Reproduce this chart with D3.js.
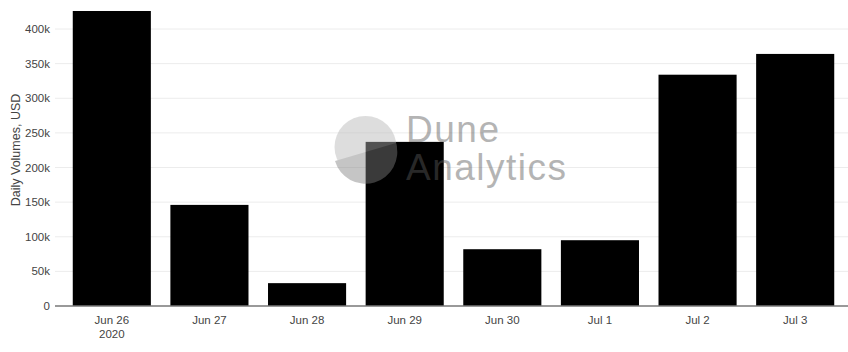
<!DOCTYPE html>
<html>
<head>
<meta charset="utf-8">
<script src="https://cdn.jsdelivr.net/npm/d3@7"></script>
<style>
  body { margin: 0; background: #fff; }
  text { font-family: "Liberation Sans", Arial, sans-serif; }
</style>
</head>
<body>
<svg id="chart" width="848" height="352"></svg>
<script>
(function () {
    'use strict';

    var days = ['Jun 26', 'Jun 27', 'Jun 28', 'Jun 29', 'Jun 30', 'Jul 1', 'Jul 2', 'Jul 3'],
        volumes = [426000, 146000, 33000, 237000, 82000, 95000, 334000, 364000],
        yTicks = [0, 50000, 100000, 150000, 200000, 250000, 300000, 350000, 400000];

    var svg = d3.select('#chart'),
        left = 63, right = 844, bottom = 306;

    var x = d3.scaleBand().domain(days).range([left, right]).paddingInner(0.2).paddingOuter(0.1);
    var y = d3.scaleLinear().domain([0, 400000]).range([bottom, 29]);

    // grid
    svg.append('g').selectAll('line').data(yTicks.slice(1)).enter().append('line')
        .attr('x1', 55).attr('x2', 848)
        .attr('y1', function (d) { return y(d); })
        .attr('y2', function (d) { return y(d); })
        .attr('stroke', '#ececec').attr('stroke-width', 1);

    // y labels
    svg.append('g').selectAll('text').data(yTicks).enter().append('text')
        .attr('x', 50).attr('y', function (d) { return y(d) + 4; })
        .attr('text-anchor', 'end').attr('font-size', 11.5).attr('fill', '#444')
        .text(function (d) { return d === 0 ? '0' : (d / 1000) + 'k'; });

    svg.append('text')
        .attr('transform', 'translate(20,' + 150 + ') rotate(-90)')
        .attr('text-anchor', 'middle').attr('font-size', 12.5).attr('fill', '#444')
        .text('Daily Volumes, USD');

    // bars
    svg.append('g').selectAll('rect').data(volumes).enter().append('rect')
        .attr('x', function (d, i) { return x(days[i]); })
        .attr('width', x.bandwidth())
        .attr('y', function (d) { return y(d); })
        .attr('height', function (d) { return bottom - y(d); })
        .attr('fill', '#000');

    // zero line
    svg.append('line').attr('x1', 55).attr('x2', 848).attr('y1', bottom).attr('y2', bottom)
        .attr('stroke', '#777').attr('stroke-width', 1.5);

    // x labels
    svg.append('g').selectAll('text').data(days).enter().append('text')
        .attr('x', function (d) { return x(d) + x.bandwidth() / 2; })
        .attr('y', 324)
        .attr('text-anchor', 'middle').attr('font-size', 11.5).attr('fill', '#444')
        .text(function (d) { return d; });
    svg.append('text')
        .attr('x', x(days[0]) + x.bandwidth() / 2).attr('y', 338)
        .attr('text-anchor', 'middle').attr('font-size', 11.5).attr('fill', '#444')
        .text('2020');

    // watermark
    var wm = svg.append('g').attr('opacity', 0.45);
    wm.append('circle').attr('cx', 365.5).attr('cy', 147).attr('r', 31).attr('fill', '#b6b6b6');
    wm.append('path')
        .attr('d', 'M335,161 A31,31 0 0 0 396,143 Z')
        .attr('fill', '#818181');
    wm.append('text').attr('x', 406).attr('y', 142).attr('font-size', 37)
        .attr('letter-spacing', 1.5)
        .attr('font-family', '"DejaVu Sans", sans-serif').attr('fill', '#5a5a5a').text('Dune');
    wm.append('text').attr('x', 406).attr('y', 180).attr('font-size', 37)
        .attr('letter-spacing', 1.5)
        .attr('font-family', '"DejaVu Sans", sans-serif').attr('fill', '#5a5a5a').text('Analytics');
}());
</script>
</body>
</html>
